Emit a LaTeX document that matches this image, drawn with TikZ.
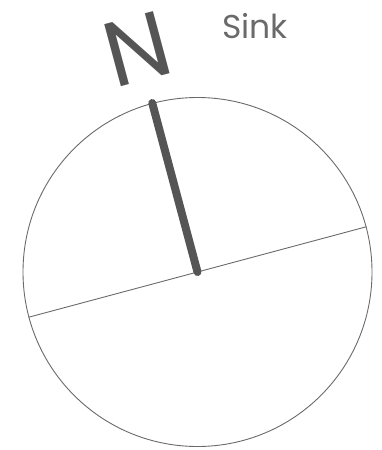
\documentclass[tikz,border=0pt]{standalone}
\usepackage{fontspec}
\setmainfont{Poppins}
\usetikzlibrary{positioning}
\definecolor{dial}{HTML}{555555}
\definecolor{rim}{HTML}{6A6A6A}
\tikzset{
  plate/.style={circle,draw=rim,line width=0.9pt,inner sep=0pt,minimum size=349pt},
  axisline/.style={draw=rim,line width=0.9pt},
  needle/.style={draw=dial,line width=8pt,line cap=round},
  northmark/.style={text=dial,font=\fontsize{92}{92}\selectfont,inner sep=0pt},
  labeltext/.style={text=rim,font=\fontsize{33}{33}\selectfont,inner sep=0pt}
}
\begin{document}
\begin{tikzpicture}[x=1pt,y=-1pt]
\useasboundingbox (0,0) rectangle (382,450);
\node[plate] (dish) at (197.5,272) {};
\draw[axisline] (dish.195) -- (dish.15);
\draw[needle] (dish.center) -- (dish.105);
\node[northmark,rotate=15] (north) at (137,49) {N};
\node[labeltext] (sink) at (255,26) {Sink};
\end{tikzpicture}
\end{document}
